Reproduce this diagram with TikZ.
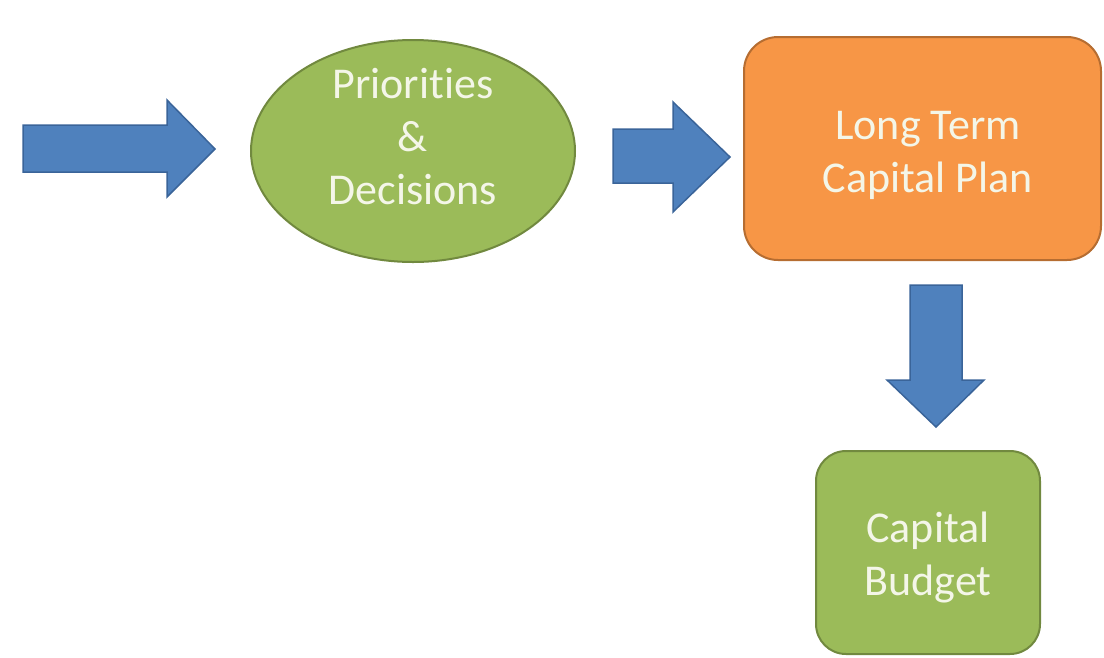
\documentclass[tikz,border=0pt]{standalone}
\usepackage{fontspec}
\setmainfont{Carlito}[Ligatures=NoCommon]
\usetikzlibrary{shapes.geometric}
\definecolor{ablue}{HTML}{4F81BD}
\definecolor{ablueb}{HTML}{3A6499}
\definecolor{agreen}{HTML}{9BBB59}
\definecolor{agreenb}{HTML}{71893F}
\definecolor{aorange}{HTML}{F79646}
\definecolor{aoranged}{HTML}{B66D31}
\definecolor{txt}{HTML}{F4F6E8}
\tikzset{
  blockarrow/.style={fill=ablue, draw=ablueb, line width=1.5pt, line join=miter},
  lbl/.style={text=txt, align=center, font=\fontsize{44}{53}\selectfont},
  greenshape/.style={fill=agreen, draw=agreenb, line width=2pt},
  orangeshape/.style={fill=aorange, draw=aoranged, line width=2pt},
}
\begin{document}
\begin{tikzpicture}[x=1pt,y=-1pt]
\useasboundingbox (0,0) rectangle (1104,657);
% left arrow
\draw[blockarrow] (23,125) -- (167,125) -- (167,100) -- (215,149) -- (167,197) -- (167,172) -- (23,172) -- cycle;
% ellipse
\node[greenshape, ellipse, minimum width=324pt, minimum height=222pt, inner sep=0pt] (pd) at (413,151) {};
\node[lbl] (pdt) at (413,137) {Priorities\\\&\\Decisions};
% middle arrow
\draw[blockarrow] (613,129) -- (673,129) -- (673,102) -- (730,157) -- (673,212) -- (673,183) -- (613,183) -- cycle;
% orange box
\draw[orangeshape, rounded corners=34pt] (744,37) rectangle (1101,260);
\node[lbl] (ltcp) at (928,155) {Long Term\\Capital Plan};
% down arrow
\draw[blockarrow] (910,285) -- (962,285) -- (962,380) -- (984,380) -- (936,427) -- (887,380) -- (910,380) -- cycle;
% green box
\draw[greenshape, rounded corners=30pt] (816,451) rectangle (1040,654);
\node[lbl] (cb) at (928,557) {Capital\\Budget};
\end{tikzpicture}
\end{document}
